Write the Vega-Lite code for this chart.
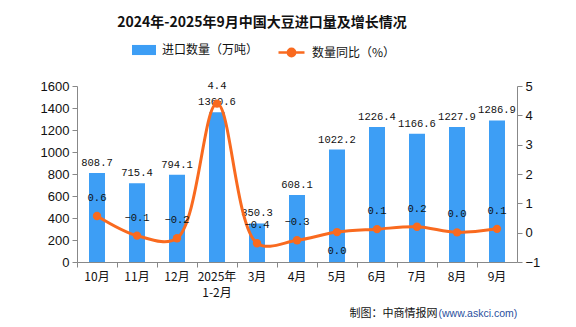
{
  "$schema": "https://vega.github.io/schema/vega-lite/v6.json",
  "width": 440,
  "height": 176,
  "autosize": {"type": "none"},
  "padding": {"left": 77, "top": 86, "right": 59, "bottom": 65},
  "background": "white",
  "title": {
    "text": "2024年-2025年9月中国大豆进口量及增长情况",
    "font": "Noto Sans CJK SC",
    "fontSize": 14,
    "fontWeight": "bold",
    "color": "#111111",
    "anchor": "middle",
    "dx": -35,
    "offset": 8
  },
  "data": {
    "values": [
      {"month": "10月", "import": 808.7, "growth": 0.57},
      {"month": "11月", "import": 715.4, "growth": -0.1},
      {"month": "12月", "import": 794.1, "growth": -0.19},
      {"month": "2025年|1-2月", "import": 1360.6, "growth": 4.4},
      {"month": "3月", "import": 350.3, "growth": -0.36},
      {"month": "4月", "import": 608.1, "growth": -0.26},
      {"month": "5月", "import": 1022.2, "growth": 0.02},
      {"month": "6月", "import": 1226.4, "growth": 0.12},
      {"month": "7月", "import": 1166.6, "growth": 0.2},
      {"month": "8月", "import": 1227.9, "growth": 0.01},
      {"month": "9月", "import": 1286.9, "growth": 0.13}
    ]
  },
  "config": {
    "view": {"stroke": null},
    "axis": {
      "domainColor": "#888888",
      "tickColor": "#888888",
      "labelColor": "#111111",
      "grid": false
    }
  },
  "layer": [
    {
      "encoding": {
        "x": {
          "field": "month",
          "type": "nominal",
          "sort": null,
          "scale": {"paddingInner": 0, "paddingOuter": 0},
          "axis": {
            "title": null,
            "labelAngle": 0,
            "labelExpr": "split(datum.label, '|')",
            "labelFont": "Noto Sans CJK SC",
            "labelFontSize": 12,
            "labelLineHeight": 16,
            "labelPadding": 4,
            "labelBaseline": "top",
            "bandPosition": 0,
            "tickSize": 5
          }
        },
        "y": {
          "field": "import",
          "type": "quantitative",
          "scale": {"domain": [0, 1600], "nice": false},
          "axis": {
            "values": [0, 200, 400, 600, 800, 1000, 1200, 1400, 1600],
            "format": "d",
            "title": "制图：中商情报网",
            "titleAngle": 0,
            "titleX": 360,
            "titleY": 227,
            "titleAlign": "right",
            "titleBaseline": "middle",
            "titleFont": "Noto Sans CJK SC",
            "titleFontSize": 11,
            "titleFontWeight": "normal",
            "titleColor": "#111111",
            "labelFont": "Liberation Sans",
            "labelFontSize": 13,
            "labelPadding": 3,
            "tickSize": 5
          }
        }
      },
      "layer": [
        {
          "mark": {"type": "bar", "width": {"band": 0.4}},
          "encoding": {
            "fill": {
              "datum": "进口数量（万吨）",
              "scale": {"range": ["#3d9ef5"]},
              "legend": {
                "orient": "none",
                "legendX": 55,
                "legendY": -48,
                "title": null,
                "symbolType": "M-1,-0.42H1V0.42H-1Z",
                "symbolSize": 576,
                "symbolStrokeWidth": 0,
                "labelFont": "Noto Sans CJK SC",
                "labelFontSize": 12,
                "labelColor": "#111111",
                "labelOffset": 6
              }
            }
          }
        },
        {
          "mark": {
            "type": "text",
            "baseline": "bottom",
            "dy": -5,
            "font": "Liberation Mono",
            "fontSize": 10.5,
            "color": "#111111"
          },
          "encoding": {
            "text": {"field": "import", "type": "quantitative", "format": ".1f"}
          }
        }
      ]
    },
    {
      "encoding": {
        "x": {"field": "month", "type": "nominal", "sort": null},
        "y": {
          "field": "growth",
          "type": "quantitative",
          "scale": {"domain": [-1, 5], "nice": false},
          "axis": {
            "orient": "right",
            "values": [-1, 0, 1, 2, 3, 4, 5],
            "title": "(www.askci.com)",
            "titleAngle": 0,
            "titleX": -79,
            "titleY": 227,
            "titleAlign": "left",
            "titleBaseline": "middle",
            "titleFont": "Liberation Sans",
            "titleFontSize": 10.5,
            "titleFontWeight": "normal",
            "titleColor": "#2a4f9e",
            "labelFont": "Liberation Sans",
            "labelFontSize": 13,
            "labelPadding": 3,
            "tickSize": 5
          }
        }
      },
      "layer": [
        {
          "mark": {"type": "line", "interpolate": "catmull-rom", "strokeWidth": 3},
          "encoding": {
            "stroke": {
              "datum": "数量同比（%）",
              "scale": {"range": ["#f96a1f"]},
              "legend": {
                "orient": "none",
                "legendX": 200,
                "legendY": -48,
                "title": null,
                "symbolType": "M-1,0H1M-0.28,0A0.28,0.28 0 1,1 0.28,0A0.28,0.28 0 1,1 -0.28,0Z",
                "symbolSize": 676,
                "symbolStrokeWidth": 2.5,
                "symbolFillColor": "#f96a1f",
                "labelFont": "Noto Sans CJK SC",
                "labelFontSize": 12,
                "labelColor": "#111111",
                "labelOffset": 6
              }
            }
          }
        },
        {
          "mark": {"type": "point", "filled": true, "size": 70, "opacity": 1, "color": "#f96a1f"}
        },
        {
          "transform": [{"filter": "datum.month != '5月'"}],
          "mark": {
            "type": "text",
            "baseline": "middle",
            "dy": -18,
            "font": "Liberation Mono",
            "fontSize": 10.5,
            "color": "#111111"
          },
          "encoding": {
            "text": {"field": "growth", "type": "quantitative", "format": ".1f"}
          }
        },
        {
          "transform": [{"filter": "datum.month == '5月'"}],
          "mark": {
            "type": "text",
            "baseline": "middle",
            "dy": 19,
            "font": "Liberation Mono",
            "fontSize": 10.5,
            "color": "#111111"
          },
          "encoding": {
            "text": {"field": "growth", "type": "quantitative", "format": ".1f"}
          }
        }
      ]
    }
  ],
  "resolve": {"scale": {"y": "independent"}}
}
